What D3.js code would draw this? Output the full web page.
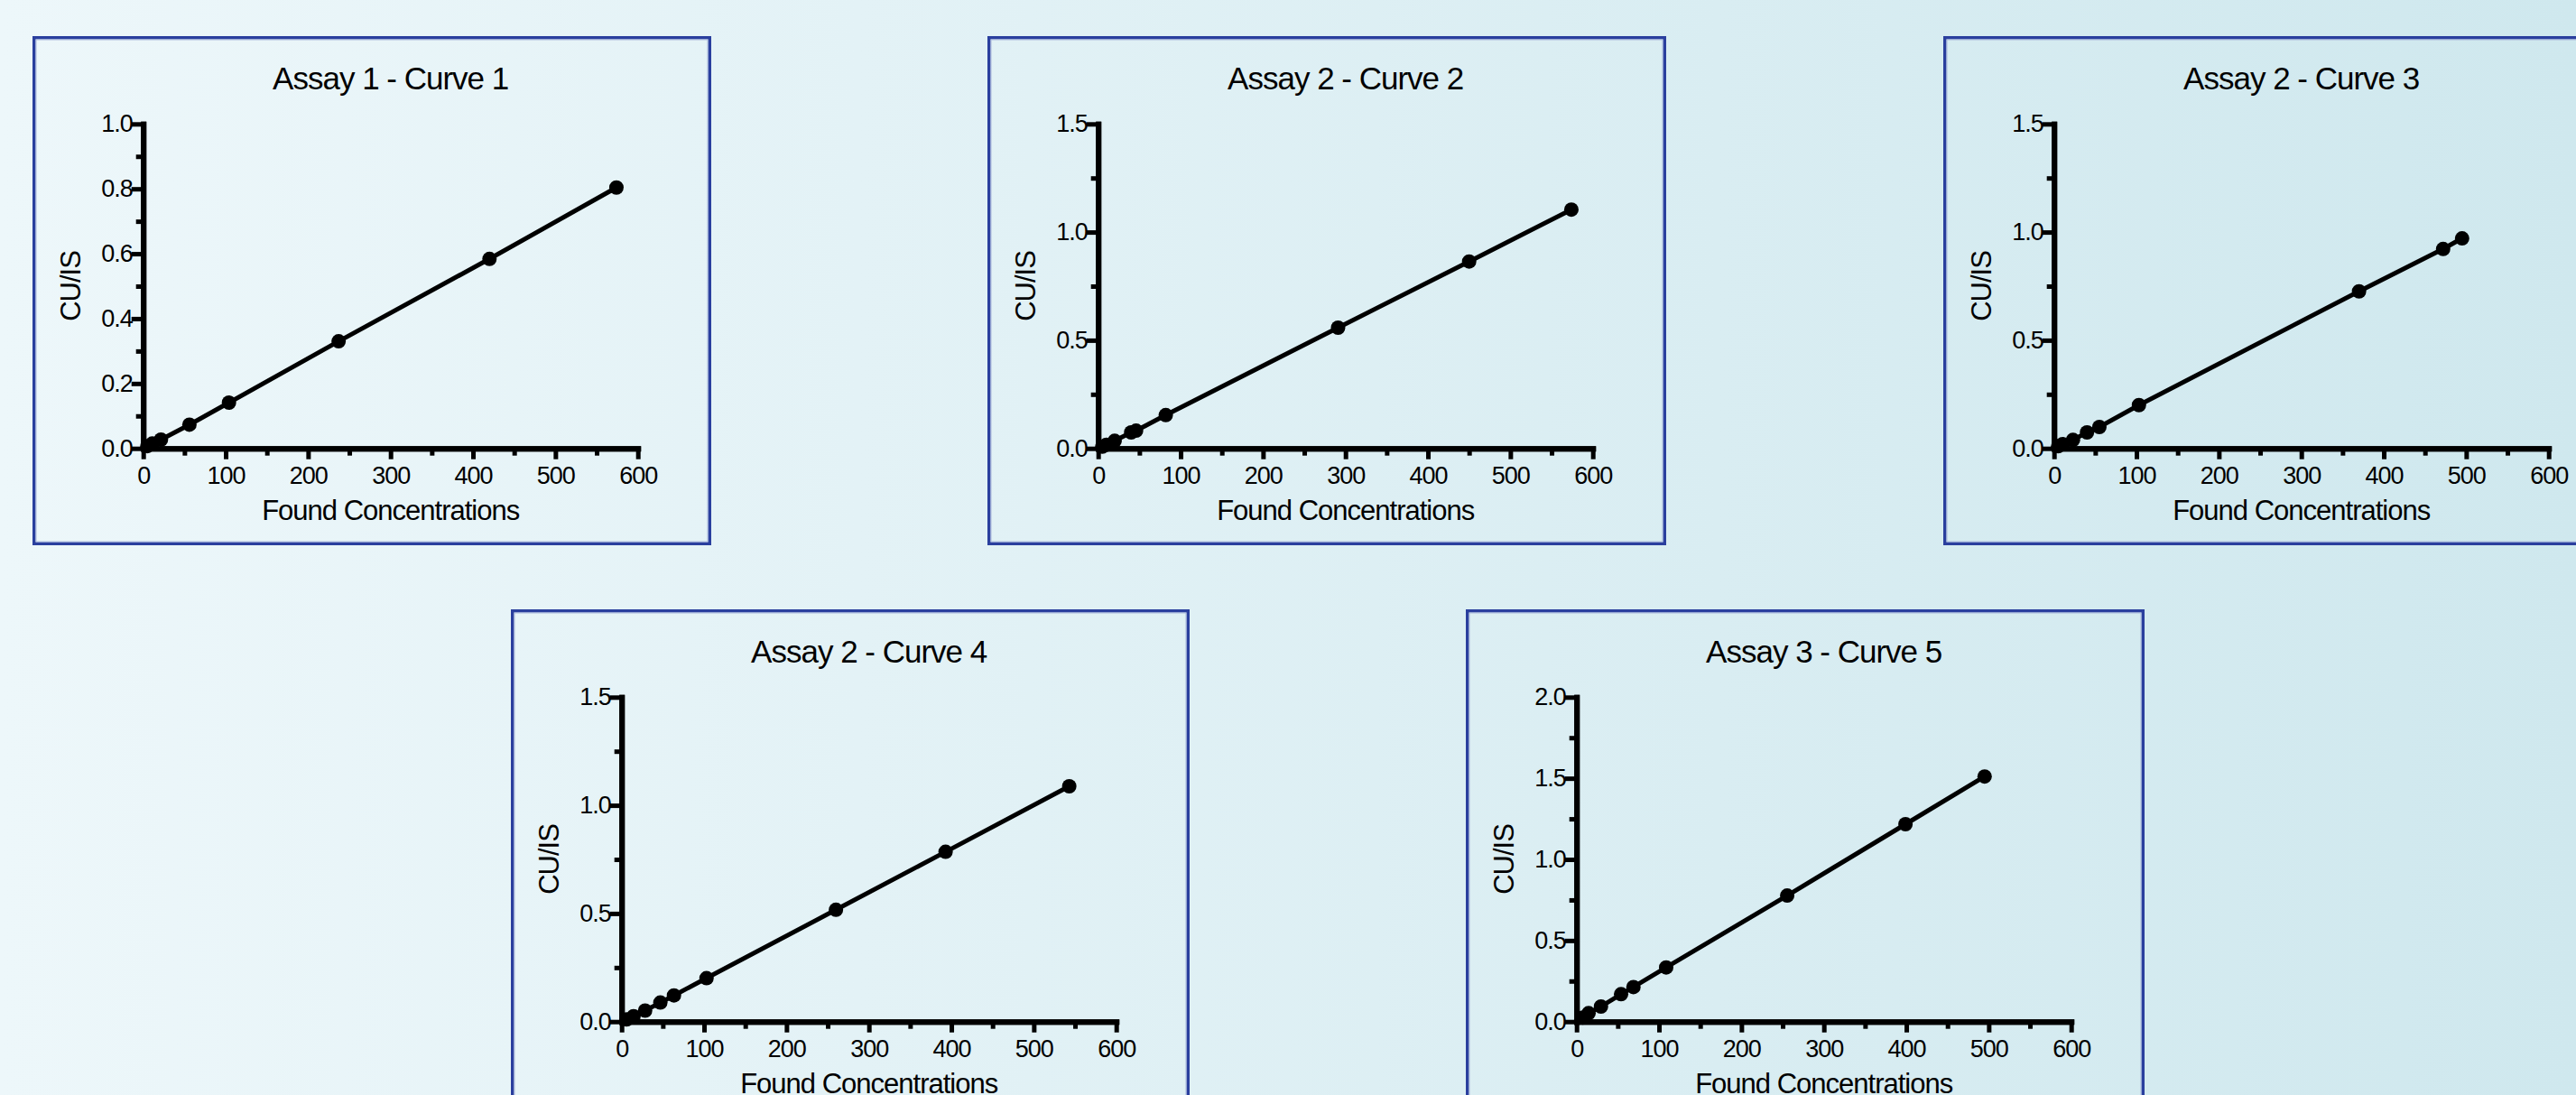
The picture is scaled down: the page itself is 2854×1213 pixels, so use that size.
<!DOCTYPE html>
<html>
<head>
<meta charset="utf-8">
<script src="https://cdn.jsdelivr.net/npm/d3@7"></script>
<style>
  html, body { margin: 0; padding: 0; overflow: hidden; }
  body { width: 2854px; height: 1213px; }
  text { font-family: "Liberation Sans", Arial, sans-serif; fill: #000; }
</style>
</head>
<body>
<div id="chart"></div>
<script>
// set the dimensions of the page
const width = 2854
const height = 1213

// chart titles
const titles = ["Assay 1 - Curve 1", "Assay 2 - Curve 2", "Assay 2 - Curve 3", "Assay 2 - Curve 4", "Assay 3 - Curve 5"]

// found concentrations (x) for each curve
const conc1 = [5, 11, 21.5, 56, 104, 237, 420, 574]
const conc2 = [5, 10, 20, 40, 46, 82, 291, 450, 574]
const conc3 = [5, 10.5, 23, 40, 55, 103, 370, 472, 495]
const conc4 = [6, 14.5, 28.5, 47, 63.5, 103, 260, 393, 543]
const conc5 = [7.7, 14.6, 29.6, 54, 69, 108.7, 255.5, 399, 495]

// CU/IS ratios (y) for each curve
const ratio1 = [0.007, 0.015, 0.027, 0.073, 0.141, 0.330, 0.584, 0.804]
const ratio2 = [0.008, 0.017, 0.035, 0.074, 0.082, 0.154, 0.558, 0.864, 1.104]
const ratio3 = [0.010, 0.020, 0.039, 0.074, 0.099, 0.200, 0.726, 0.922, 0.971]
const ratio4 = [0.010, 0.025, 0.051, 0.088, 0.121, 0.201, 0.517, 0.785, 1.088]
const ratio5 = [0.025, 0.052, 0.093, 0.169, 0.213, 0.334, 0.777, 1.217, 1.511]

// axis ticks
const xMajor = [0, 100, 200, 300, 400, 500, 600]
const xMinor = [50, 150, 250, 350, 450, 550]
const yMax = [1.0, 1.5, 1.5, 1.5, 2.0]
const yMajor = [
    [0, 0.2, 0.4, 0.6, 0.8, 1.0],
    [0, 0.5, 1.0, 1.5],
    [0, 0.5, 1.0, 1.5],
    [0, 0.5, 1.0, 1.5],
    [0, 0.5, 1.0, 1.5, 2.0]
]
const yMinor = [
    [0.1, 0.3, 0.5, 0.7, 0.9],
    [0.25, 0.75, 1.25],
    [0.25, 0.75, 1.25],
    [0.25, 0.75, 1.25],
    [0.25, 0.75, 1.25, 1.75]
]

const concs = [conc1, conc2, conc3, conc4, conc5]
const ratios = [ratio1, ratio2, ratio3, ratio4, ratio5]

// panel placement
const panelW = 752
const panelH = 564
const panelPos = [[36, 40], [1094, 40], [2153, 40], [566, 675], [1624, 675]]
const plot = { left: 122.7, top: 97.3, width: 548, height: 359.4 }

const svg = d3.select("#chart")
    .append("svg")
    .attr("width", width)
    .attr("height", height)

// background gradient
const grad = svg.append("defs").append("linearGradient")
    .attr("id", "bg")
    .attr("x1", "0%").attr("x2", "100%")
    .attr("y1", "0%").attr("y2", "0%")
grad.append("stop").attr("offset", "0%").attr("stop-color", "#edf7fa")
grad.append("stop").attr("offset", "100%").attr("stop-color", "#cfe8ee")

svg.append("rect")
    .attr("width", width)
    .attr("height", height)
    .attr("fill", "url(#bg)")

titles.forEach(function (title, i) {
    const g = svg.append("g")
        .attr("transform", "translate(" + panelPos[i][0] + "," + panelPos[i][1] + ")")

    // panel frame
    g.append("rect")
        .attr("x", 1.75).attr("y", 1.75)
        .attr("width", panelW - 3.5).attr("height", panelH - 3.5)
        .attr("fill", "none")
        .attr("stroke", "#2a3f9e")
        .attr("stroke-width", 3.5)
    g.append("rect")
        .attr("x", 4).attr("y", 4)
        .attr("width", panelW - 8).attr("height", panelH - 8)
        .attr("fill", "none")
        .attr("stroke", "#a9b8dc")
        .attr("stroke-width", 1)

    const x = d3.scaleLinear()
        .domain([0, 600])
        .range([plot.left, plot.left + plot.width])
    const y = d3.scaleLinear()
        .domain([0, yMax[i]])
        .range([plot.top + plot.height, plot.top])

    const y0 = plot.top + plot.height

    // x axis: minor then major ticks
    g.append("g")
        .attr("class", "axis")
        .attr("transform", "translate(0," + y0 + ")")
        .call(d3.axisBottom(x).tickValues(xMinor).tickSize(8).tickSizeOuter(0).tickFormat(""))
    g.append("g")
        .attr("class", "axis")
        .attr("transform", "translate(0," + y0 + ")")
        .call(d3.axisBottom(x).tickValues(xMajor).tickSize(12).tickSizeOuter(0).tickPadding(8).tickFormat(d3.format("d")))

    // y axis
    g.append("g")
        .attr("class", "axis")
        .attr("transform", "translate(" + plot.left + ",0)")
        .call(d3.axisLeft(y).tickValues(yMinor[i]).tickSize(8).tickSizeOuter(0).tickFormat(""))
    g.append("g")
        .attr("class", "axis")
        .attr("transform", "translate(" + plot.left + ",0)")
        .call(d3.axisLeft(y).tickValues(yMajor[i]).tickSize(13).tickSizeOuter(0).tickPadding(-1).tickFormat(d3.format(".1f")))

    g.selectAll(".axis path")
        .attr("stroke", "#000")
        .attr("stroke-width", 6)
        .attr("stroke-linecap", "square")
    g.selectAll(".axis line")
        .attr("stroke", "#000")
        .attr("stroke-width", 5)
    g.selectAll(".axis text")
        .style("font-size", "27px")
        .style("letter-spacing", "-1px")
        .style("font-family", "'Liberation Sans', Arial, sans-serif")
        .attr("fill", "#000")

    // title
    g.append("text")
        .attr("x", plot.left + plot.width / 2)
        .attr("y", 46.5)
        .attr("text-anchor", "middle")
        .attr("dominant-baseline", "central")
        .style("font-size", "35px")
        .style("letter-spacing", "-1px")
        .text(title)

    // axis labels
    g.append("text")
        .attr("x", plot.left + plot.width / 2)
        .attr("y", 525)
        .attr("text-anchor", "middle")
        .attr("dominant-baseline", "central")
        .style("font-size", "31px")
        .style("letter-spacing", "-1px")
        .text("Found Concentrations")
    g.append("text")
        .attr("transform", "translate(42," + (plot.top + plot.height / 2) + ") rotate(-90)")
        .attr("text-anchor", "middle")
        .attr("dominant-baseline", "central")
        .style("font-size", "31px")
        .style("letter-spacing", "-1px")
        .text("CU/IS")

    const pts = concs[i].map(function (c, k) { return { x: c, y: ratios[i][k] } })

    // line through the points
    g.append("path")
        .datum(pts)
        .attr("fill", "none")
        .attr("stroke", "#000")
        .attr("stroke-width", 5)
        .attr("stroke-linecap", "round")
        .attr("d", d3.line().x(d => x(d.x)).y(d => y(d.y)))

    g.append("g")
        .selectAll("circle")
        .data(pts)
        .join("circle")
        .attr("cx", d => x(d.x))
        .attr("cy", d => y(d.y))
        .attr("r", 8)
        .attr("fill", "#000")
})
</script>
</body>
</html>
